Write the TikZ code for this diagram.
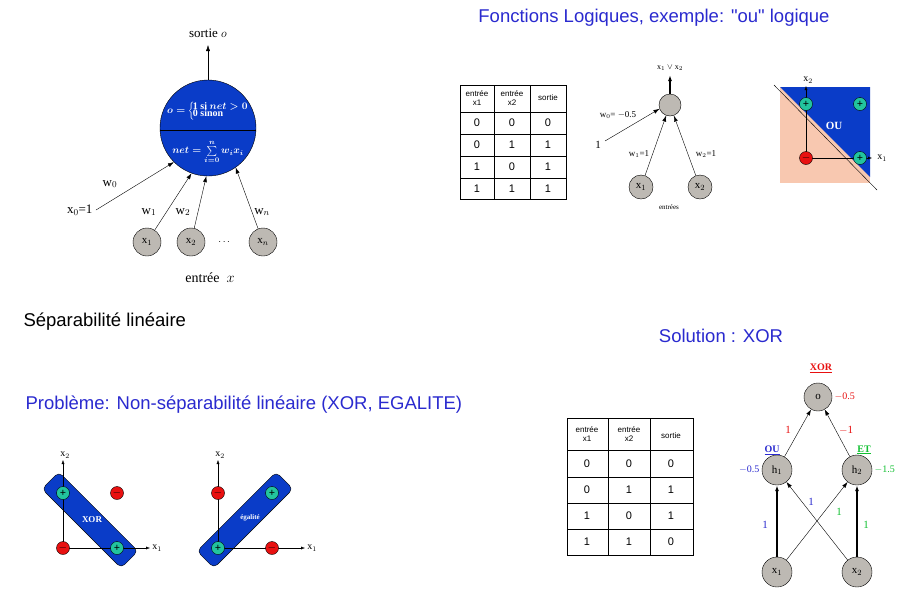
\documentclass[tikz,border=0pt]{standalone}
\usepackage{fontspec}
\usepackage{amsmath}
\setmainfont{Liberation Serif}
\newfontfamily\arial{Liberation Sans}
\usetikzlibrary{arrows.meta}
\definecolor{nblue}{HTML}{0A3CC8}
\definecolor{tblue}{HTML}{2A2ACF}
\definecolor{ngray}{HTML}{BDB9B3}
\definecolor{teal}{HTML}{22C49E}
\definecolor{pred}{HTML}{E81010}
\definecolor{pink}{HTML}{F8C8B0}
\definecolor{ngreen}{HTML}{10C030}
\tikzset{
 gnode/.style={circle,draw,fill=ngray,minimum size=#1,inner sep=0pt,font=\fontsize{11}{11}\selectfont},
 gnode/.default=28pt,
 arr/.style={-{Latex[length=6pt,width=4pt]},thin},
 tarr/.style={-{Latex[length=6pt,width=4pt]},line width=1.4pt},
 tit/.style={font=\arial\fontsize{18.5}{18.5}\selectfont,text=tblue},
 plus/.style={circle,draw,fill=teal,minimum size=13pt,inner sep=0pt,font=\bfseries\fontsize{11}{11}\selectfont},
 minus/.style={circle,draw,fill=pred,minimum size=13pt,inner sep=0pt,font=\bfseries\fontsize{11}{11}\selectfont},
 cell/.style={font=\arial\fontsize{11}{11}\selectfont},
 hcell/.style={font=\arial\fontsize{8}{9}\selectfont,align=center},
 lab/.style={font=\fontsize{11}{11}\selectfont},
 band/.style={draw,fill=nblue,rounded corners=5pt,minimum width=112pt,minimum height=24pt}
}
\begin{document}
\begin{tikzpicture}[x=1pt,y=-1pt]
\useasboundingbox[fill=white] (0,0) rectangle (900,598);
% ---- perceptron
\node[circle,draw,fill=nblue,minimum size=96pt,inner sep=0pt] (P) at (208,128) {};
\draw (160,130) -- (256,130);
\node[text=white,font=\bfseries\fontsize{10}{10}\selectfont,inner sep=0pt] (pf) at (208,111) {$\boldsymbol{o=}\left\{\!\begin{array}{@{}l@{}}\text{1 si }\boldsymbol{net>0}\\[-3pt]\text{0 sinon}\end{array}\right.$};
\node[text=white,font=\fontsize{10}{10}\selectfont,inner sep=0pt] (pn) at (208,152) {$\boldsymbol{net=\sum\limits_{i=0}^{n} w_i x_i}$};
\coordinate (Ptop) at (208,45);
\draw[arr] (P.north) -- (Ptop);
\node[font=\fontsize{13}{13}\selectfont] (so) at (208,33) {sortie $o$};
\node[gnode] (x1) at (147,242) {x$_1$};
\node[gnode] (x2) at (191,242) {x$_2$};
\node[gnode] (xn) at (263,242) {x$_n$};
\node (dots) at (225,242) {$\cdots$};
\node[font=\fontsize{13}{13}\selectfont,anchor=east] (x0) at (96,210) {x$_0$=1};
\draw[arr] (x0.east) -- (P.225);
\draw[arr] (x1) -- (P.250);
\draw[arr] (x2) -- (P.268);
\draw[arr] (xn) -- (P.305);
\node[lab,font=\fontsize{13}{13}\selectfont] (w0) at (110,184) {w$_0$};
\node[lab,font=\fontsize{13}{13}\selectfont] (w1) at (149,212) {w$_1$};
\node[lab,font=\fontsize{13}{13}\selectfont] (w2) at (183,212) {w$_2$};
\node[lab,font=\fontsize{13}{13}\selectfont] (wn) at (262,212) {w$_n$};
\node[font=\fontsize{14}{14}\selectfont] (ex) at (210,278) {entrée~~$x$};
% ---- titles
\node[tit] (t1) at (654,18) {Fonctions Logiques, exemple: "ou" logique};
\node[font=\arial\fontsize{18.5}{18.5}\selectfont,anchor=west] (t2) at (20,322) {Séparabilité linéaire};
\node[tit] (t3) at (721,336) {Solution : XOR};
\node[tit,anchor=west] (t4) at (22,405) {Problème: Non-séparabilité linéaire (XOR, EGALITE)};
% ---- table 1
\draw (460,85) rectangle (566,199);
\foreach \x in {494,530} \draw (\x,85) -- (\x,199);
\foreach \y in {112,134,156,178} \draw (460,\y) -- (566,\y);
\node[hcell] (h11) at (477,98) {entrée\\x1};
\node[hcell] (h12) at (512,98) {entrée\\x2};
\node[hcell] (h13) at (548,98) {sortie};
\foreach \a/\b/\c/\y in {0/0/0/123,0/1/1/145,1/0/1/167,1/1/1/189}{
 \node[cell] at (477,\y) {\a}; \node[cell] at (512,\y) {\b}; \node[cell] at (548,\y) {\c};}
% ---- OR net
\node[gnode=22pt] (o1) at (670,105) {};
\coordinate (o1t) at (670,75);
\draw[tarr,line width=1.2pt] (o1) -- (o1t);
\node[font=\fontsize{8}{8}\selectfont] (o1l) at (670,68) {x$_1$ $\vee$ x$_2$};
\node[gnode=24pt] (a1) at (641,187) {x$_1$};
\node[gnode=24pt] (a2) at (700,187) {x$_2$};
\draw[arr] (a1) -- (o1.250);
\draw[arr] (a2) -- (o1.290);
\node[font=\fontsize{11}{11}\selectfont] (one) at (598,145) {1};
\draw[arr] (605,141) -- (o1.200);
\node[font=\fontsize{9}{9}\selectfont] at (618,115) {w$_0$= $-$0.5};
\node[font=\fontsize{9}{9}\selectfont] at (639,154) {w$_1$=1};
\node[font=\fontsize{9}{9}\selectfont] at (706,154) {w$_2$=1};
\node[font=\fontsize{7}{7}\selectfont] (en) at (669,207) {entrées};
% ---- OU plot
\fill[pink] (780,87) rectangle (870,183);
\fill[nblue] (780,87) -- (870,87) -- (870,177) -- cycle;
\draw (774,85) -- (877,190);
\coordinate (O1) at (806,158);
\draw[-{Latex[length=4pt,width=3pt]}] (O1) -- (806,86);
\draw[-{Latex[length=4pt,width=3pt]}] (O1) -- (872,158);
\node[font=\fontsize{10}{10}\selectfont] at (808,80) {x$_2$};
\node[font=\fontsize{10}{10}\selectfont] at (882,158) {x$_1$};
\node[plus] at (806,104) {+};
\node[plus] at (860,104) {+};
\node[minus] at (806,158) {$-$};
\node[plus] at (860,158) {+};
\node[text=white,font=\bfseries\fontsize{11}{11}\selectfont] at (834,126) {OU};
% ---- XOR plot
\node[band,rotate=-45] (b1) at (90,520) {};
\node[text=white,font=\bfseries\fontsize{9}{9}\selectfont] at (92,520) {XOR};
\draw[-{Latex[length=4pt,width=3pt]}] (63,548) -- (63,460);
\draw[-{Latex[length=4pt,width=3pt]}] (63,548) -- (150,548);
\node[font=\fontsize{10}{10}\selectfont] at (65,455) {x$_2$};
\node[font=\fontsize{10}{10}\selectfont] at (157,548) {x$_1$};
\node[plus] at (63,493) {+};
\node[minus] at (117,493) {$-$};
\node[minus] at (63,548) {$-$};
\node[plus] at (117,548) {+};
% ---- egalite plot
\node[band,rotate=45] (b2) at (245,520) {};
\node[text=white,font=\bfseries\fontsize{7}{7}\selectfont] at (250,518) {égalité};
\draw[-{Latex[length=4pt,width=3pt]}] (218,548) -- (218,460);
\draw[-{Latex[length=4pt,width=3pt]}] (218,548) -- (305,548);
\node[font=\fontsize{10}{10}\selectfont] at (220,455) {x$_2$};
\node[font=\fontsize{10}{10}\selectfont] at (312,548) {x$_1$};
\node[minus] at (218,493) {$-$};
\node[plus] at (272,493) {+};
\node[plus] at (218,548) {+};
\node[minus] at (272,548) {$-$};
% ---- table 2
\draw (567,418) rectangle (693,555);
\foreach \x in {608,650} \draw (\x,418) -- (\x,555);
\foreach \y in {450,477,503,529} \draw (567,\y) -- (693,\y);
\node[hcell] at (587,434) {entrée\\x1};
\node[hcell] at (629,434) {entrée\\x2};
\node[hcell] at (671,436) {sortie};
\foreach \a/\b/\c/\y in {0/0/0/464,0/1/1/490,1/0/1/516,1/1/0/542}{
 \node[cell] at (587,\y) {\a}; \node[cell] at (629,\y) {\b}; \node[cell] at (671,\y) {\c};}
% ---- XOR net
\node[gnode=28pt] (o) at (818,397) {o};
\node[gnode=30pt] (h1) at (777,470) {h$_1$};
\node[gnode=30pt] (h2) at (857,470) {h$_2$};
\node[gnode=30pt] (y1) at (777,572) {x$_1$};
\node[gnode=30pt] (y2) at (857,572) {x$_2$};
\draw[arr] (h1) -- (o);
\draw[arr] (h2) -- (o);
\draw[tarr] (y1) -- (h1);
\draw[tarr] (y2) -- (h2);
\draw[arr] (y1) -- (h2);
\draw[arr] (y2) -- (h1);
\node[text=pred,font=\bfseries\fontsize{10}{10}\selectfont] at (821,368) {\underline{XOR}};
\node[text=tblue,font=\bfseries\fontsize{10}{10}\selectfont] at (772,450) {\underline{OU}};
\node[text=ngreen,font=\bfseries\fontsize{10}{10}\selectfont] at (864,450) {\underline{ET}};
\node[text=pred,font=\fontsize{10}{10}\selectfont,anchor=west] at (831,397) {$-$0.5};
\node[text=tblue,font=\fontsize{10}{10}\selectfont,anchor=east] at (763,470) {$-$0.5};
\node[text=ngreen,font=\fontsize{10}{10}\selectfont,anchor=west] at (871,470) {$-$1.5};
\node[text=pred,font=\fontsize{11}{11}\selectfont] at (788,430) {1};
\node[text=pred,font=\fontsize{11}{11}\selectfont] at (846,430) {$-$1};
\node[text=tblue,font=\fontsize{11}{11}\selectfont] at (765,525) {1};
\node[text=tblue,font=\fontsize{11}{11}\selectfont] at (811,502) {1};
\node[text=ngreen,font=\fontsize{11}{11}\selectfont] at (839,512) {1};
\node[text=ngreen,font=\fontsize{11}{11}\selectfont] at (866,525) {1};
\end{tikzpicture}
\end{document}
